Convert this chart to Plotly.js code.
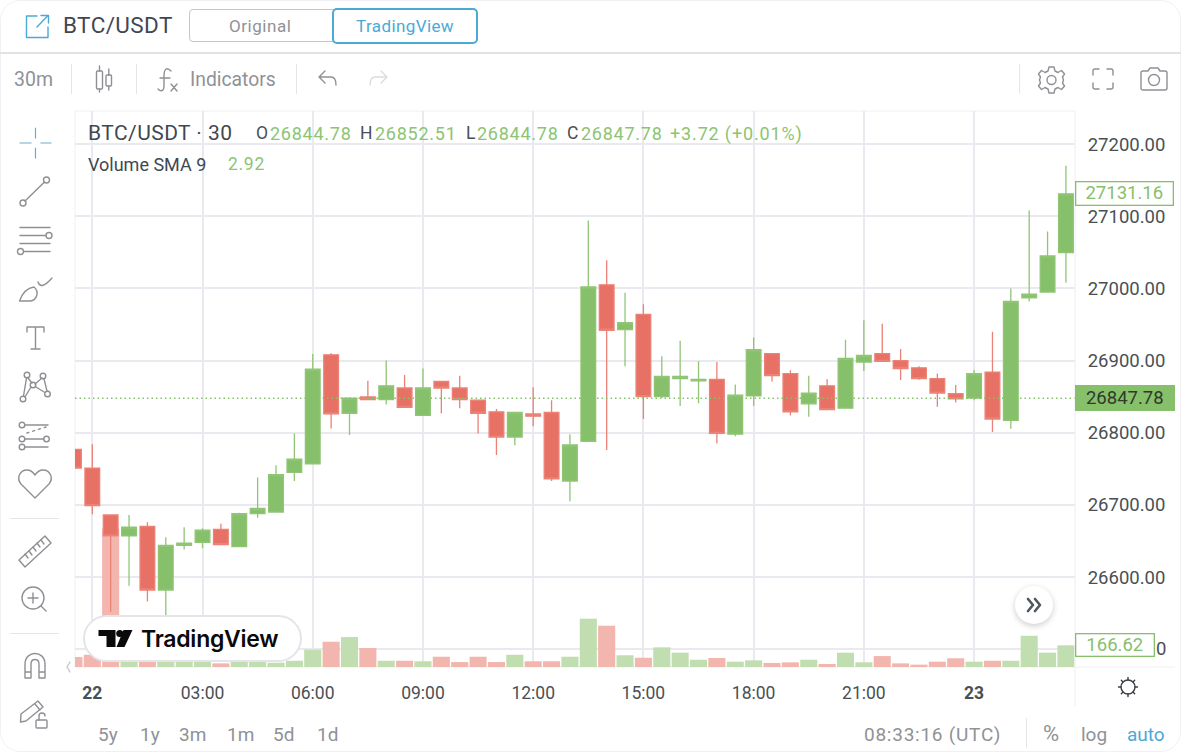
<!DOCTYPE html>
<html><head><meta charset="utf-8">
<script src="https://cdn.plot.ly/plotly-3.0.1.min.js"></script>
<style>
html,body{margin:0;padding:0;background:#fff;width:1181px;height:752px;overflow:hidden;font-family:Roboto,sans-serif}
#chart{position:absolute;left:0;top:0;width:1181px;height:752px}
.t{position:absolute;white-space:nowrap;transform:translateY(-50%);line-height:1}
.g{color:#8f9296}.d{color:#4a4f55}.gr{color:#8cc473}
.hl{position:absolute;background:#e6e6e9}
svg.i{position:absolute;overflow:visible;fill:none;stroke:#8e9094;stroke-width:1.4;stroke-linecap:round;stroke-linejoin:round}
</style></head><body>
<div id="chart"></div>

<!-- page frame -->
<div style="position:absolute;left:0;top:0;width:1179px;height:750px;border:1px solid #f1f1f3;border-radius:20px;pointer-events:none"></div>

<!-- header -->
<svg class="i" style="left:0;top:0" width="60" height="50"><g style="stroke:#4ba9d6"><path d="M37 16H26.500V37.500H48V27"/><path d="M48 15.500L37 27" /><path d="M41 15.500H48.500V23"/></g></svg>
<div class="t" style="left:63px;top:25px;font-size:22.500px;color:#3f4852;letter-spacing:.4px">BTC/USDT</div>
<div style="position:absolute;left:189px;top:9px;width:150px;height:33px;border:1px solid #c4c6c9;border-radius:4px;box-sizing:border-box"></div>
<div class="t g" style="left:229px;top:26px;font-size:17px;letter-spacing:.55px">Original</div>
<div style="position:absolute;left:332px;top:8px;width:146px;height:36px;border:2px solid #4ba9d6;border-radius:5px;box-sizing:border-box;background:#fff"></div>
<div class="t" style="left:356px;top:26px;font-size:17px;color:#4ba9d6;letter-spacing:.4px">TradingView</div>
<div class="hl" style="left:0;top:52px;width:1181px;height:1.500px;background:#e2e2e4"></div>

<!-- toolbar -->
<div class="t g" style="left:14px;top:80px;font-size:19.500px">30m</div>
<div class="hl" style="left:71px;top:64px;width:1px;height:30px"></div>
<div class="hl" style="left:136px;top:64px;width:1px;height:30px"></div>
<div class="hl" style="left:296px;top:64px;width:1px;height:30px"></div>
<div class="hl" style="left:1019px;top:64px;width:1px;height:30px"></div>
<svg class="i" style="left:0;top:0" width="120" height="100"><g transform="translate(11,0)"><rect x="85.500" y="71" width="6" height="18" rx="1"/><path d="M88.500 66V71M88.500 89V92"/><rect x="95" y="75" width="5.500" height="11" rx="1"/><path d="M97.800 69V75M97.800 86V90"/></g></svg>
<svg class="i" style="left:0;top:0" width="200" height="100"><path d="M171 71C166 66 164 70 164 76V86C164 91 161 92 158 89"/><path d="M160 78H170"/><path d="M171 84L177 91M177 84L171 91"/></svg>
<div class="t g" style="left:190px;top:80px;font-size:19.300px">Indicators</div>
<svg class="i" style="left:0;top:0" width="400" height="100"><path d="M325 71L319 77L325 83M319 77H331C335 77 336 81 336 85"/><g style="stroke:#dcdcdf"><path d="M381 71L387 77L381 83M387 77H375C371 77 370 81 370 85"/></g></svg>
<svg class="i" style="left:1037px;top:65px" width="30" height="30" viewBox="0 0 30 30"><path d="M12 2H17L18 6L21 7.500L24.500 5.500L27.500 9L25.500 12L26.500 15L25.500 18L27.500 21L24.500 24.500L21 22.500L18 24L17 28H12L11 24L8 22.500L4.500 24.500L1.500 21L3.500 18L2.500 15L3.500 12L1.500 9L4.500 5.500L8 7.500L11 6Z"/><circle cx="14.500" cy="15" r="4.500"/></svg>
<svg class="i" style="left:1092px;top:68px" width="23" height="23"><path d="M1 7V3Q1 1 3 1H7M15 1H19Q21 1 21 3V7M21 15V19Q21 21 19 21H15M7 21H3Q1 21 1 19V15"/></svg>
<svg class="i" style="left:1140px;top:67px" width="28" height="24"><path d="M1 6Q1 4 3 4H8L10 1H18L20 4H25Q27 4 27 6V21Q27 23 25 23H3Q1 23 1 21Z"/><circle cx="14" cy="13" r="5.500"/></svg>

<!-- left tools -->
<svg class="i" style="left:0;top:0" width="70" height="740">
<g style="stroke:#6fa9c9;stroke-width:1.200"><path d="M35.500 128V138M35.500 148V158M20 143H31M41 143H51"/></g>
<circle cx="46.500" cy="180" r="3"/><circle cx="23" cy="203" r="3"/><path d="M44.500 182L25 201"/>
<path d="M20 227.500H50M20 235.500H46M20 243.500H50M24 251.500H50"/><circle cx="49" cy="235.500" r="3"/><circle cx="20.500" cy="251.500" r="3"/>
<path d="M19.500 301C22 294 27 288 34 287C39 291 38 301 29 301H19.500Z"/><path d="M38 282C40 288 45 286 52 278"/>
<path d="M27 327V332M27 327H44V332M35.500 327V349M31 349H40"/>
<circle cx="27" cy="375" r="2.800"/><circle cx="43" cy="376" r="2.800"/><circle cx="33" cy="385" r="2.800"/><circle cx="47.500" cy="394" r="2.800"/><circle cx="23" cy="399" r="2.800"/><path d="M26.500 378L23.500 396M28 378L32 383M35 384L42 378M36 387L44 392M25 397L31 387M44 379L47 391"/>
<circle cx="22" cy="425" r="2.800"/><circle cx="22" cy="439" r="2.800"/><circle cx="46.500" cy="439" r="2.800"/><circle cx="22" cy="447" r="2.800"/><path d="M25 425H48M25 439H44M25 447H48"/><path d="M27 433L46 427" stroke-dasharray="2 4"/>
<path d="M35 498L21 484C16 478 20 470 27 470C31 470 33 472 35 475C37 472 39 470 43 470C50 470 54 478 49 484Z"/>
</svg>
<div class="hl" style="left:10px;top:518px;width:49px;height:1.200px"></div>
<div class="hl" style="left:10px;top:633px;width:49px;height:1.200px"></div>
<svg class="i" style="left:0;top:0" width="70" height="740">
<path d="M19 560L45 536L51 543L25 567Z"/><path d="M25 554L28 558M29 551L32 555M33 547L36 551M37 543L40 547M41 540L44 544"/>
<circle cx="33" cy="598" r="11"/><path d="M33 593V603M28 598H38M41 606L46 611"/>
<path d="M25 678V664C25 650 45 650 45 664V678H39V664C39 658 31 658 31 664V678ZM25 672H31M39 672H45"/>
<path d="M21 714L38 701L43 707L26 721L20.500 722Z"/><path d="M35 704L40 710"/><rect x="36" y="720" width="11" height="8" rx="1"/><path d="M39 720V716C39 712 45 712 45 716"/>
<path d="M70 662L67 667L70 672" style="stroke:#c4c6c9"/>
</svg>

<!-- series legend -->
<div class="t" style="left:88px;top:133px;font-size:21px;color:#3f4852;letter-spacing:.45px">BTC/USDT · 30</div>
<div class="t d" style="left:256px;top:134px;font-size:17.500px">O</div><div class="t gr" style="left:270px;top:134px;font-size:18px;letter-spacing:.75px">26844.78</div>
<div class="t d" style="left:360px;top:134px;font-size:17.500px">H</div><div class="t gr" style="left:375px;top:134px;font-size:18px;letter-spacing:.75px">26852.51</div>
<div class="t d" style="left:466px;top:134px;font-size:17.500px">L</div><div class="t gr" style="left:477px;top:134px;font-size:18px;letter-spacing:.75px">26844.78</div>
<div class="t d" style="left:567px;top:134px;font-size:17.500px">C</div><div class="t gr" style="left:581px;top:134px;font-size:18px;letter-spacing:.75px">26847.78</div>
<div class="t gr" style="left:670px;top:134px;font-size:18px;letter-spacing:.85px">+3.72 (+0.01%)</div>
<div class="t" style="left:88px;top:165px;font-size:18px;color:#3f4852">Volume SMA 9</div>
<div class="t gr" style="left:228px;top:165px;font-size:17.500px;letter-spacing:.7px">2.92</div>

<!-- TradingView pill -->
<div style="position:absolute;left:83px;top:615px;width:219px;height:47px;box-sizing:border-box;border:2px solid #e4e4ea;border-radius:24px;background:#fff"></div>
<svg style="position:absolute;left:0;top:0;overflow:visible" width="140" height="660"><path d="M98.500 630H115.500V647H106.500V636H98.500Z" fill="#0a0a0a"/><circle cx="119.800" cy="633.500" r="3.600" fill="#0a0a0a"/><path d="M123.500 630H132.500L124.500 647H116.500Z" fill="#0a0a0a"/></svg>
<div class="t" style="left:141px;top:639px;font-family:Inter,sans-serif;font-weight:600;font-size:23px;color:#0a0a0a;letter-spacing:-.25px">TradingView</div>

<!-- scroll button -->
<div style="position:absolute;left:1015px;top:586px;width:38px;height:38px;border-radius:50%;background:#fff;box-shadow:0 2px 6px rgba(0,0,0,.2)"></div>
<svg class="i" style="left:1015px;top:586px;stroke:#50565c;stroke-width:2.600" width="38" height="38"><path d="M13 13L18 19L13 25M20 13L25 19L20 25"/></svg>

<!-- sun -->
<svg class="i" style="left:1116px;top:675px;stroke:#3a3f45" width="24" height="24"><circle cx="12" cy="12" r="7"/><path d="M12 2.500V5M12 19V21.500M2.500 12H5M19 12H21.500M5.300 5.300L7 7M17 17L18.700 18.700M5.300 18.700L7 17M17 7L18.700 5.300"/></svg>

<!-- bottom bar -->
<div class="t g" style="left:98px;top:734px;font-size:19px">5y</div>
<div class="t g" style="left:140px;top:734px;font-size:19px">1y</div>
<div class="t g" style="left:179px;top:734px;font-size:19px">3m</div>
<div class="t g" style="left:227px;top:734px;font-size:19px">1m</div>
<div class="t g" style="left:273px;top:734px;font-size:19px">5d</div>
<div class="t g" style="left:317px;top:734px;font-size:19px">1d</div>
<div class="t g" style="left:864px;top:734px;font-size:19px;letter-spacing:.75px">08:33:16 (UTC)</div>
<div class="hl" style="left:1026px;top:718px;width:1px;height:30px"></div>
<div class="t g" style="left:1043px;top:734px;font-size:22px">%</div>
<div class="t g" style="left:1081px;top:734px;font-size:19px">log</div>
<div class="t" style="left:1127px;top:734px;font-size:19px;color:#4ba9d6">auto</div>

<script>
const times = ["2023-05-21 23:30","2023-05-22 00:00","2023-05-22 00:30","2023-05-22 01:00","2023-05-22 01:30","2023-05-22 02:00","2023-05-22 02:30","2023-05-22 03:00","2023-05-22 03:30","2023-05-22 04:00","2023-05-22 04:30","2023-05-22 05:00","2023-05-22 05:30","2023-05-22 06:00","2023-05-22 06:30","2023-05-22 07:00","2023-05-22 07:30","2023-05-22 08:00","2023-05-22 08:30","2023-05-22 09:00","2023-05-22 09:30","2023-05-22 10:00","2023-05-22 10:30","2023-05-22 11:00","2023-05-22 11:30","2023-05-22 12:00","2023-05-22 12:30","2023-05-22 13:00","2023-05-22 13:30","2023-05-22 14:00","2023-05-22 14:30","2023-05-22 15:00","2023-05-22 15:30","2023-05-22 16:00","2023-05-22 16:30","2023-05-22 17:00","2023-05-22 17:30","2023-05-22 18:00","2023-05-22 18:30","2023-05-22 19:00","2023-05-22 19:30","2023-05-22 20:00","2023-05-22 20:30","2023-05-22 21:00","2023-05-22 21:30","2023-05-22 22:00","2023-05-22 22:30","2023-05-22 23:00","2023-05-22 23:30","2023-05-23 00:00","2023-05-23 00:30","2023-05-23 01:00","2023-05-23 01:30","2023-05-23 02:00","2023-05-23 02:30"];
const opens = [26777,26751,26686,26657,26670,26582,26644,26648,26666,26642,26688,26690,26745,26757,26908,26827,26849.5,26846,26862,26824,26871,26862,26845,26829,26794,26826,26828,26733,26788,27005,26943,26964,26850,26875,26872,26874,26798,26851,26909.5,26882,26840,26865,26834,26898,26909.5,26900,26890,26875,26854,26848,26884,26817,26987,26995,27049.5];
const highs = [26777,26784,26686,26686,26676,26655,26669,26667.5,26674,26689,26738,26755,26799,26909,26910,26849,26872,26900,26880,26889,26872,26879,26845,26833,26828,26863,26845,26798,27094,27039,26994,26978,26906,26927.5,26899,26898,26867,26932,26910,26886.5,26879,26874,26929,26956,26951,26916,26892,26882,26866,26887,26940,27000,27108,27079,27170];
const lows = [26751,26687,26552,26588,26566,26547,26638,26640,26645,26642,26682,26690,26733,26757,26806,26797,26845,26839,26835,26824,26827,26834,26799,26769,26782.5,26809,26733,26705,26788,26776,26892,26819,26848,26837,26841,26785,26795,26837,26871,26824,26822,26832,26834,26885.5,26898,26873,26873.5,26836,26842,26845,26801,26805.5,26982,26995,27008];
const closes = [26751,26699,26657,26669,26582,26644,26647,26665,26645,26688,26695,26742,26763.5,26888,26826,26848,26846,26865,26835,26862,26862,26846,26827,26794,26828,26823,26736,26783,27002,26942,26952.5,26850,26878,26878,26874,26799,26852,26915,26879,26829,26855,26832,26903,26907,26899,26889,26875,26855,26847,26882,26819,26982,26992,27045,27131.16];
const volumes = [77,94,1064,41,41,43,43,43,28,43,43,33,48,133,194,230,146,48,48,44,79,38,79,38,94,44,44,79,371,317,90,71,151,110,56,69,41,51,31,36,56,23,110,36,84,28,18,41,67,41,48,48,240,110,166.62];
const priceTicks = [26500,26600,26700,26800,26900,27000,27100,27200];
const priceLabels = ["","26600.00","26700.00","26800.00","26900.00","27000.00","27100.00","27200.00"];
const timeTicks = ["2023-05-22 00:00","2023-05-22 03:00","2023-05-22 06:00","2023-05-22 09:00","2023-05-22 12:00","2023-05-22 15:00","2023-05-22 18:00","2023-05-22 21:00","2023-05-23 00:00"];
const timeLabels = ["<b>22</b>","03:00","06:00","09:00","12:00","15:00","18:00","21:00","<b>23</b>"];
const currentPrice = 26847.78;
const clippedTickTail = "0";

const GREEN = "#87c06b", RED = "#e87165", GREEN_SOFT = "#c1deb0", RED_SOFT = "#f3b6ae", GRID = "#e9e9ef";
const last = closes.length - 1;

const volumeTrace = {
  type: "bar", x: times, y: volumes, xaxis: "x", yaxis: "y", hoverinfo: "skip",
  marker: {color: closes.map((c, i) => c >= opens[i] ? GREEN_SOFT : RED_SOFT), line: {width: 0}}
};
const candleTrace = {
  type: "candlestick", x: times, open: opens, high: highs, low: lows, close: closes,
  xaxis: "x", yaxis: "y2", whiskerwidth: 0, hoverinfo: "skip",
  increasing: {line: {color: "#90c576", width: 1.3}, fillcolor: GREEN},
  decreasing: {line: {color: "#ec8176", width: 1.3}, fillcolor: RED}
};
const boxed = (text, yref, y, w, h, bg, border, color) => ({
  xref: "paper", x: 1, xanchor: "left", yref, y, yanchor: "middle", text, showarrow: false,
  width: w, height: h, bgcolor: bg, bordercolor: border, borderwidth: 1.3, borderpad: 0, align: "center",
  font: {family: "Roboto, sans-serif", size: 18.5, color}
});

const layout = {
  width: 1181, height: 752, paper_bgcolor: "#fff", plot_bgcolor: "#fff", showlegend: false,
  margin: {l: 75, r: 106, t: 111, b: 85, pad: 0},
  bargap: 0.07, boxgap: 0.2, boxgroupgap: 0,
  font: {family: "Roboto, sans-serif", size: 18, color: "#4a4f55"},
  xaxis: {
    type: "date", range: ["2023-05-21 23:31:45", "2023-05-23 02:44:48"], rangeslider: {visible: false},
    tickmode: "array", tickvals: timeTicks, ticktext: timeLabels, showgrid: true, gridcolor: GRID, gridwidth: 2,
    zeroline: false, showline: false, ticks: "outside", ticklen: 10, tickcolor: "rgba(0,0,0,0)", tickfont: {size: 17.5, color: "#4a4f55"}
  },
  yaxis: {range: [0, 4270], showgrid: false, zeroline: false, showticklabels: false, ticks: "", fixedrange: true},
  yaxis2: {
    overlaying: "y", side: "right", range: [26475.3, 27245.9], tickmode: "array", tickvals: priceTicks, ticktext: priceLabels,
    showgrid: true, gridcolor: GRID, gridwidth: 2, zeroline: false, ticks: "outside", ticklen: 8,
    tickcolor: "rgba(0,0,0,0)", tickfont: {size: 18.5, color: "#4a4f55"}, showline: false
  },
  shapes: [
    {type: "line", xref: "paper", x0: 0, x1: 1, yref: "y2", y0: currentPrice, y1: currentPrice, layer: "above",
     line: {color: GREEN, width: 1.3, dash: "1.5px,3px"}},
    {type: "line", xref: "paper", x0: 1, x1: 1, yref: "paper", y0: -0.07, y1: 1, layer: "above", line: {color: "#eeeef2", width: 1}},
    {type: "line", xref: "paper", x0: 0, x1: 1, yref: "paper", y0: 1, y1: 1, layer: "below", line: {color: "#f0f0f3", width: 1}},
    {type: "line", xref: "paper", x0: 0, x1: 0, yref: "paper", y0: 0, y1: 1, layer: "below", line: {color: "#f0f0f3", width: 1}},
    {type: "line", xref: "paper", x0: 0, x1: 1.1, yref: "paper", y0: 0, y1: 0, layer: "below", line: {color: "#f0f0f3", width: 1}}
  ],
  annotations: [
    boxed(closes[last].toFixed(2), "y2", closes[last], 96, 22, "#fff", GREEN, GREEN),
    boxed(currentPrice.toFixed(2), "y2", currentPrice, 97, 23, GREEN, GREEN, "#2e3a2a"),
    boxed(String(volumes[last]), "y", volumes[last], 77, 21, "#fff", GREEN, GREEN),
    {xref: "paper", x: 1, xanchor: "left", xshift: 79, yref: "y2", y: priceTicks[0], yanchor: "middle",
     text: clippedTickTail, showarrow: false, font: {family: "Roboto, sans-serif", size: 18.5, color: "#4a4f55"}}
  ]
};
Plotly.newPlot("chart", [volumeTrace, candleTrace], layout, {displayModeBar: false, staticPlot: true});
</script>
</body></html>
